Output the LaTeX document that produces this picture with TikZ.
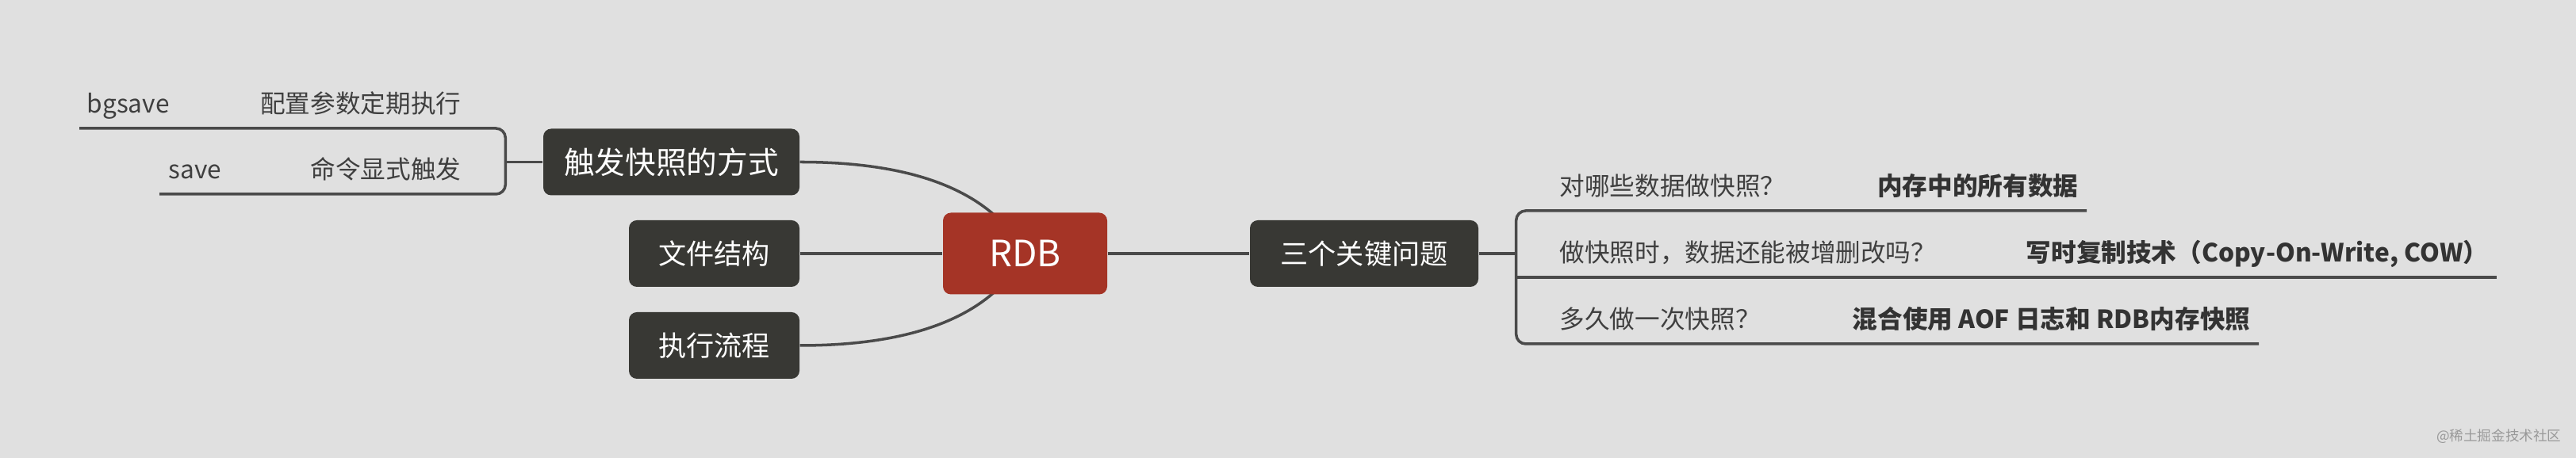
\documentclass[tikz,border=0pt]{standalone}
\usepackage{fontspec}
\setmainfont{Noto Sans CJK SC}
\usetikzlibrary{positioning}
\definecolor{bgcol}{HTML}{E0E0E0}
\definecolor{topiccol}{HTML}{383834}
\definecolor{rootcol}{HTML}{A53426}
\definecolor{linecol}{HTML}{4A4A4A}
\definecolor{leafcol}{HTML}{3F3F3F}
\pgfdeclarelayer{bg}
\pgfsetlayers{bg,main}
\tikzstyle{root}=
[
	rectangle
	,rounded corners=0.1cm
	,minimum width=2.07cm
	,minimum height=1.03cm
	,fill=rootcol
	,text=white
	,font=\fontsize{13}{15}\selectfont
]
\tikzstyle{topic}=
[
	rectangle
	,rounded corners=0.1cm
	,minimum width=2.15cm
	,minimum height=0.84cm
	,fill=topiccol
	,text=white
	,font=\fontsize{10}{12}\selectfont
]
\tikzstyle{leaf}=
[
	inner sep=0pt
	,text=leafcol
	,font=\fontsize{9}{11}\selectfont
]
\tikzstyle{answer}=
[
	leaf
	,text=black!80
	,font=\fontsize{9}{11}\selectfont\bfseries
]
\tikzstyle{line} = [draw=linecol, line width=1pt]
\begin{document}
\begin{tikzpicture}[node distance=2.5cm]
\useasboundingbox (0,0) rectangle (32.48,5.78);
\begin{pgfonlayer}{bg}
\fill[bgcol] (0,0) rectangle (32.48,5.78);
\end{pgfonlayer}

\node(rdb)[root] at (12.925,2.58) {RDB};
\node(file)[topic, left of=rdb, node distance=3.92cm]{文件结构};
\node(flow)[topic, below of=file, node distance=1.16cm]{执行流程};
\node(trig)[topic, above of=file, xshift=-0.54cm, node distance=1.155cm, minimum width=3.23cm, font=\fontsize{11}{13}\selectfont]{触发快照的方式};
\node(key)[topic, right of=rdb, node distance=4.275cm, minimum width=2.88cm]{三个关键问题};

\node(bgsave)[leaf, anchor=base west] at (1.09,4.35) {bgsave};
\node(cfg)[leaf, anchor=base east] at (5.82,4.35) {配置参数定期执行};
\node(save)[leaf, anchor=base west] at (2.12,3.52) {save};
\node(cmd)[leaf, anchor=base east] at (5.82,3.52) {命令显式触发};

\node(q1)[leaf, anchor=base west] at (19.66,3.31) {对哪些数据做快照？};
\node(a1)[answer, anchor=base east] at (26.21,3.31) {内存中的所有数据};
\node(q2)[leaf, anchor=base west] at (19.66,2.47) {做快照时，数据还能被增删改吗？};
\node(a2)[answer, anchor=base east] at (31.38,2.47) {写时复制技术（Copy-On-Write, COW）};
\node(q3)[leaf, anchor=base west] at (19.66,1.63) {多久做一次快照？};
\node(a3)[answer, anchor=base east] at (28.38,1.63) {混合使用 AOF 日志和 RDB内存快照};

\node(mark)[anchor=base east, inner sep=0pt, text=black!40, font=\fontsize{5}{6}\selectfont] at (32.30,0.21) {@稀土掘金技术社区};

\coordinate(lj) at ([xshift=-0.47cm]trig.west);
\coordinate(rj) at ([xshift=0.47cm]key.east);

\begin{pgfonlayer}{bg}
\draw[line](trig.east) .. controls +(1.42,0) and +(-0.43,0.8) .. (rdb.center);
\draw[line](flow.east) .. controls +(1.42,0) and +(-0.43,-0.8) .. (rdb.center);
\draw[line](file)--(rdb);
\draw[line](rdb)--(key);

\draw[line](trig)--(lj);
\draw[line, rounded corners=0.12cm](1.00,4.16) -| (lj) |- (2.01,3.33);

\draw[line](key)--(rj);
\draw[line, rounded corners=0.12cm](26.31,3.12) -| (rj) |- (28.48,1.44);
\draw[line](rj |- 0,2.28)--(31.48,2.28);
\end{pgfonlayer}
\end{tikzpicture}
\end{document}
